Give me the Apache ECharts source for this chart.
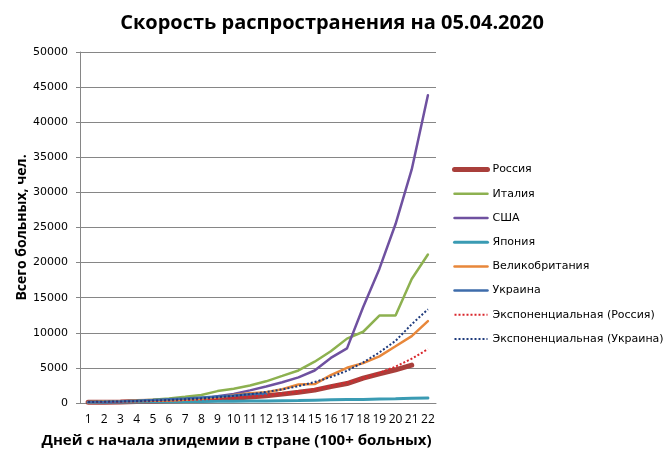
<!doctype html>
<html>
<head>
    <meta charset="utf-8">
    <title>Скорость распространения</title>
    <script src="https://cdn.jsdelivr.net/npm/echarts@6/dist/echarts.min.js"></script>
</head>
<style>
    html, body { margin: 0; padding: 0; background: #fff; }
    #chart { width: 664px; height: 459px; }
</style>
<body>
<div id="chart"></div>
<script>
  var days = ['1','2','3','4','5','6','7','8','9','10','11','12','13','14','15','16','17','18','19','20','21','22'];

  var russia = [90, 114, 147, 199, 253, 306, 367, 438, 495, 658, 840, 1036, 1264, 1534, 1836, 2337, 2777, 3548, 4149, 4731, 5389];
  var italy = [79, 155, 229, 322, 453, 655, 888, 1128, 1694, 2036, 2502, 3089, 3858, 4636, 5883, 7375, 9172, 10149, 12462, 12462, 17660, 21157];
  var usa = [100, 118, 149, 217, 262, 402, 518, 583, 959, 1281, 1800, 2350, 2950, 3650, 4632, 6421, 7786, 13680, 19101, 25493, 33276, 43847];
  var japan = [105, 132, 144, 157, 164, 186, 210, 230, 239, 254, 268, 284, 317, 349, 408, 455, 488, 514, 568, 619, 675, 714];
  var uk = [115, 163, 206, 273, 321, 373, 456, 590, 798, 1140, 1391, 1543, 1950, 2626, 2689, 3983, 5018, 5683, 6650, 8077, 9529, 11658];
  var ukraine = [113, 156, 218, 311, 418, 548, 645, 794, 942, 1072, 1251, 1319];
  var trendRussia = [128, 156, 190, 230, 280, 340, 415, 500, 610, 740, 900, 1095, 1330, 1615, 1960, 2380, 2900, 3520, 4270, 5190, 6310, 7670];
  var trendUkraine = [145, 180, 225, 280, 345, 430, 530, 660, 820, 1015, 1260, 1560, 1940, 2400, 2980, 3700, 4590, 5780, 7200, 8850, 11220, 13350];

  var myChart = echarts.init(document.getElementById('chart'));

  function line(name, data, color, width, type) {
    return {
      name: name,
      type: 'line',
      data: data,
      symbol: 'none',
      animation: false,
      lineStyle: { color: color, width: width, type: type || 'solid', cap: type ? 'butt' : 'round' },
      itemStyle: { color: color }
    };
  }

  var option = {
    title: {
      text: 'Скорость распространения на 05.04.2020',
      left: 'center',
      top: 8,
      textStyle: { fontFamily: 'Open Sans', fontWeight: 'bold', fontSize: 20, color: '#000' }
    },
    grid: { left: 80, right: 228, top: 52, bottom: 56 },
    legend: {
      orient: 'vertical',
      left: 447,
      top: 159,
      itemWidth: 33,
      itemHeight: 14,
      itemGap: 13,
      itemStyle: { opacity: 0 },
      lineStyle: { width: 'inherit' },
      textStyle: { fontFamily: 'DejaVu Sans', fontSize: 11, color: '#000' },
      data: ['Россия', 'Италия', 'США', 'Япония', 'Великобритания', 'Украина',
             'Экспоненциальная (Россия)', 'Экспоненциальная (Украина)']
    },
    xAxis: {
      type: 'category',
      data: days,
      boundaryGap: true,
      name: 'Дней с начала эпидемии в стране (100+ больных)',
      nameLocation: 'middle',
      nameGap: 30,
      nameTextStyle: { fontFamily: 'Open Sans', fontWeight: 'bold', fontSize: 15, color: '#000', padding: [0, 43, 0, 0] },
      axisLine: { lineStyle: { color: '#868686' } },
      axisTick: { show: false },
      axisLabel: { interval: 0, margin: 11, fontFamily: 'Open Sans', fontSize: 12, color: '#000' }
    },
    yAxis: {
      type: 'value',
      min: 0,
      max: 50000,
      interval: 5000,
      name: 'Всего больных, чел.',
      nameLocation: 'middle',
      nameMoveOverlap: false,
      nameGap: 51,
      nameTextStyle: { fontFamily: 'Open Sans', fontWeight: 'bold', fontSize: 14, color: '#000' },
      axisLine: { show: true, lineStyle: { color: '#868686' } },
      axisTick: { show: true, length: 4, lineStyle: { color: '#868686' } },
      axisLabel: {
        margin: 12, fontFamily: 'DejaVu Sans', fontSize: 11, color: '#000',
        formatter: function (v) { return String(v); }
      },
      splitLine: { lineStyle: { color: '#868686' } }
    },
    series: [
      line('Россия', russia, '#A93F3B', 5),
      line('Италия', italy, '#8DB150', 2.5),
      line('США', usa, '#6F51A0', 2.5),
      line('Япония', japan, '#3A9BB3', 3),
      line('Великобритания', uk, '#E8873A', 2.5),
      line('Украина', ukraine, '#3E6CAB', 2.5),
      line('Экспоненциальная (Россия)', trendRussia, '#D9262C', 2, [2, 2]),
      line('Экспоненциальная (Украина)', trendUkraine, '#1F3B7C', 2, [2, 2])
    ]
  };

  myChart.setOption(option);
</script>
</body>
</html>
